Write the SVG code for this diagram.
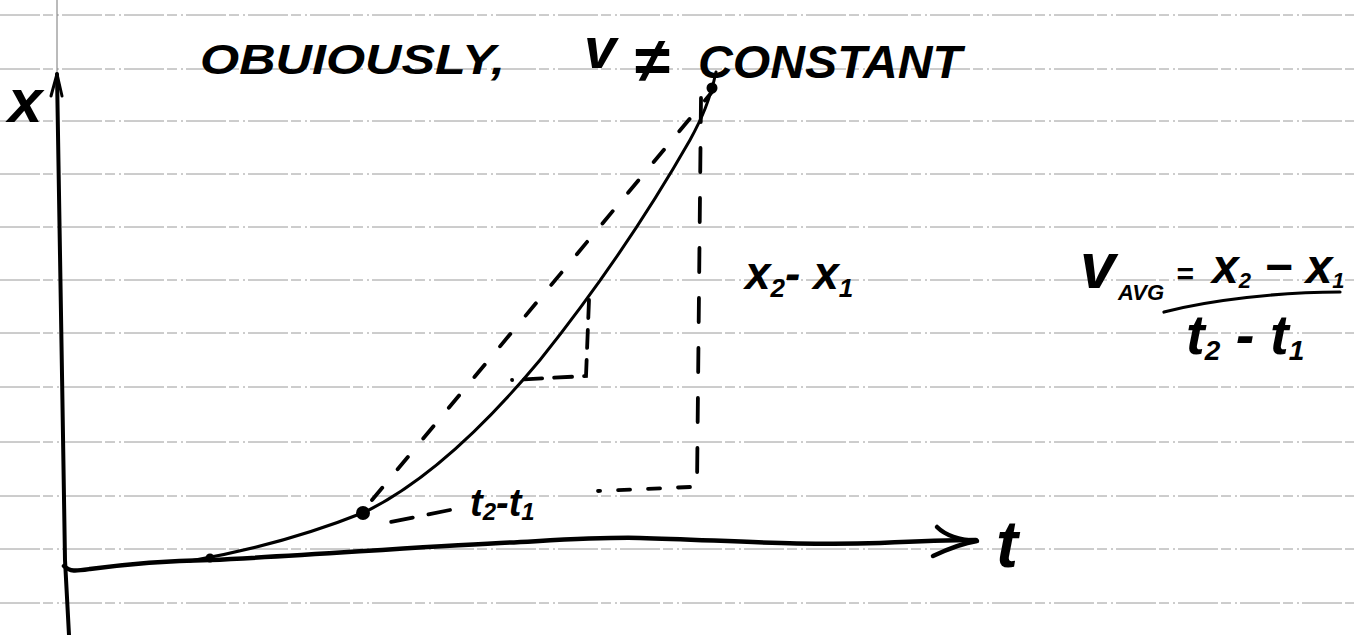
<svg xmlns="http://www.w3.org/2000/svg" width="1354" height="635" viewBox="0 0 1354 635">
<style>
.rule{stroke:#9a9a9a;stroke-width:1;stroke-dasharray:40 3 10 4 2 3;fill:none}
.ink{stroke:#000;fill:none;stroke-linecap:round;stroke-linejoin:round}
.dash{stroke:#000;fill:none;stroke-width:3.8;stroke-linecap:round}
.hw{font-family:"Liberation Sans",Arial,sans-serif;font-style:italic;font-weight:bold;fill:#000}
</style>
<rect width="1354" height="635" fill="#fff"/>
<g id="paper">
<line class="rule" x1="0" y1="15" x2="1354" y2="15"/>
<line class="rule" x1="0" y1="69" x2="1354" y2="69"/>
<line class="rule" x1="0" y1="121" x2="1354" y2="121"/>
<line class="rule" x1="0" y1="174" x2="1354" y2="174"/>
<line class="rule" x1="0" y1="227" x2="1354" y2="227"/>
<line class="rule" x1="0" y1="280" x2="1354" y2="280"/>
<line class="rule" x1="0" y1="333" x2="1354" y2="333"/>
<line class="rule" x1="0" y1="387" x2="1354" y2="387"/>
<line class="rule" x1="0" y1="442" x2="1354" y2="442"/>
<line class="rule" x1="0" y1="496" x2="1354" y2="496"/>
<line class="rule" x1="0" y1="549" x2="1354" y2="549"/>
<line class="rule" x1="0" y1="603" x2="1354" y2="603"/>
<line x1="57" y1="0" x2="57" y2="80" stroke="#777" stroke-width="1"/>
</g>
<g id="title">
<text class="hw" x="200" y="74" font-size="42" textLength="305" lengthAdjust="spacingAndGlyphs">OBUIOUSLY,</text>
<text class="hw" x="584" y="68" font-size="58">v</text>
<text class="hw" x="634" y="82" font-size="64">≠</text>
<text class="hw" x="698" y="78" font-size="46" textLength="264" lengthAdjust="spacingAndGlyphs">CONSTANT</text>
</g>
<g id="axes">
<path class="ink" stroke-width="4" d="M57,74 C60,200 62,400 65,560 C67,600 68,620 69,635"/>
<path class="ink" stroke-width="3" d="M51,96 L57,74 L62,96"/>
<path class="ink" stroke-width="4.5" d="M64,566 C70,572 76,571 90,569 C120,565 160,561 210,560 C300,556 400,548 500,543 C560,540 600,537 640,538 C720,540 800,546 880,543 C920,541 950,540 976,540"/>
<path class="ink" stroke-width="4.5" d="M937,527 C946,536 960,540 977,541 M933,556 C950,548 964,543 977,541"/>
<text id="x-label" class="hw" x="8" y="122" font-size="62">x</text>
<text id="t-label" class="hw" x="996" y="567" font-size="66">t</text>
</g>
<g id="connectors">
<path id="curve" class="ink" stroke-width="3" d="M190,561 C260,549 320,530 365,512 C430,480 490,420 540,360 C600,285 650,210 690,140 C702,118 710,100 716,72"/>
<path id="secant" class="dash" stroke-dasharray="16 24" d="M372,500 L712,92"/>
<path id="small-rise" class="dash" stroke-dasharray="18 12" d="M589,300 L586,376 L512,380"/>
<path id="big-rise" class="dash" stroke-dasharray="24 26" d="M701,98 L697,486"/>
<path id="big-run" class="dash" stroke-dasharray="12 18" d="M690,487 L598,491"/>
<path id="big-run2" class="dash" stroke-dasharray="22 16" d="M450,510 L386,523"/>
</g>
<g id="points">
<circle cx="210" cy="558" r="4.5"/>
<circle cx="363" cy="513" r="7"/>
<circle cx="712" cy="88" r="5.5"/>
</g>
<g id="labels">
<text class="hw" x="745" y="289" font-size="46">x<tspan font-size="26" dy="8">2</tspan><tspan dy="-8">-</tspan> x<tspan font-size="26" dy="8">1</tspan></text>
<text class="hw" x="470" y="516" font-size="38">t<tspan font-size="24" dy="4">2</tspan><tspan dy="-4">-</tspan>t<tspan font-size="24" dy="4">1</tspan></text>
</g>
<g id="formula">
<text class="hw" x="1080" y="288" font-size="64">v</text>
<text class="hw" x="1118" y="300" font-size="22">AVG</text>
<text class="hw" x="1176" y="284" font-size="30">=</text>
<text class="hw" x="1212" y="283" font-size="48">x<tspan font-size="22" dy="5">2</tspan><tspan dy="-5"> − </tspan>x<tspan font-size="22" dy="5">1</tspan></text>
<path class="ink" stroke-width="3.2" d="M1164,312 C1210,300 1280,292 1340,292"/>
<text class="hw" x="1186" y="354" font-size="56">t<tspan font-size="28" dy="6">2</tspan><tspan dy="-6"> - </tspan>t<tspan font-size="28" dy="6">1</tspan></text>
</g>
</svg>
